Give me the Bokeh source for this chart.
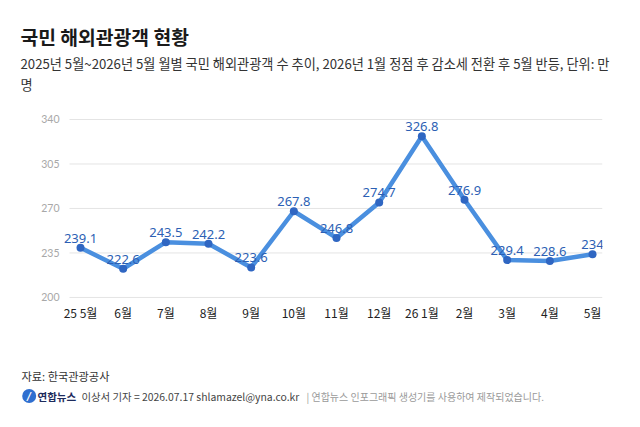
from bokeh.plotting import figure
from bokeh.layouts import column
from bokeh.models import ColumnDataSource, FixedTicker, Range1d
from bokeh.core.properties import value
from bokeh.embed import file_html
from bokeh.resources import INLINE

# Monthly outbound tourists (unit: 10,000 people)
months = ["25 5월", "6월", "7월", "8월", "9월", "10월", "11월", "12월",
          "26 1월", "2월", "3월", "4월", "5월"]
tourists = [239.1, 222.6, 243.5, 242.2, 223.6, 267.8, 246.8, 274.7,
            326.8, 276.9, 229.4, 228.6, 234]
y_ticks = [200, 235, 270, 305, 340]
value_labels = ["239.1", "222.6", "243.5", "242.2", "223.6", "267.8", "246.8",
                "274.7", "326.8", "276.9", "229.4", "228.6", "234"]

title = "국민 해외관광객 현황"
subtitle_1 = "2025년 5월~2026년 5월 월별 국민 해외관광객 수 추이, 2026년 1월 정점 후 감소세 전환 후 5월 반등, 단위: 만"
subtitle_2 = "명"
source_note = "자료: 한국관광공사"
credit_brand = "연합뉴스"
credit_byline = "이상서 기자 = 2026.07.17 shlamazel@yna.co.kr"
credit_tail = "| 연합뉴스 인포그래픽 생성기를 사용하여 제작되었습니다."

W = 640
KR = "Noto Sans CJK KR"
HEADER_H, MAIN_H, FOOTER_H = 100, 230, 97


def text_panel(height, y_top):
    # plain panel whose frame is the whole canvas, in page pixels (y grows downward)
    f = figure(width=W, height=height, output_backend="svg", toolbar_location=None,
               x_range=Range1d(0, W), y_range=Range1d(y_top + height, y_top),
               min_border=0)
    f.frame_align = False
    f.axis.visible = False
    f.grid.visible = False
    f.outline_line_color = None
    f.background_fill_color = "white"
    f.border_fill_color = "white"
    return f


def put(f, txt, x, y, size, color, style="normal", font=KR):
    f.text(x=[x], y=[y], text=[txt], text_font=value(font), text_font_size=size,
           text_color=color, text_font_style=style,
           text_baseline="middle", text_align="left")


# ---- header
header = text_panel(HEADER_H, 0)
put(header, title, 20, 36, "19.3px", "#1a1a1a", "bold")
put(header, subtitle_1, 20, 63, "13.2px", "#333333")
put(header, subtitle_2, 20, 84, "13.2px", "#333333")

# ---- main chart
src = ColumnDataSource(dict(x=list(range(len(months))), y=tourists, lab=value_labels))

p = figure(width=W, height=MAIN_H, output_backend="svg", toolbar_location=None,
           x_range=Range1d(-0.4453, 12.234), y_range=Range1d(197.6, 351.0),
           min_border_left=61, min_border_right=38,
           min_border_top=5, min_border_bottom=30)
p.frame_align = False
p.outline_line_color = None
p.background_fill_color = "white"
p.border_fill_color = "white"

p.xaxis.ticker = FixedTicker(ticks=list(range(len(months))))
p.xaxis.major_label_overrides = {i: m for i, m in enumerate(months)}
p.xaxis.axis_line_color = None
p.xaxis.major_tick_line_color = None
p.xaxis.minor_tick_line_color = None
p.xaxis.major_tick_out = 0
p.xaxis.major_tick_in = 0
p.xaxis.major_label_text_font = KR
p.xaxis.major_label_text_font_size = "12px"
p.xaxis.major_label_text_color = "#222222"
p.xaxis.major_label_standoff = 3

p.yaxis.ticker = FixedTicker(ticks=y_ticks)
p.yaxis.axis_line_color = None
p.yaxis.major_tick_line_color = None
p.yaxis.minor_tick_line_color = None
p.yaxis.major_tick_out = 0
p.yaxis.major_tick_in = 0
p.yaxis.major_label_text_font = "Lato"
p.yaxis.major_label_text_font_size = "10.5px"
p.yaxis.major_label_text_color = "#a8a8a8"
p.yaxis.major_label_standoff = 2

p.grid.grid_line_color = None

# horizontal guide lines at the y ticks, starting a little right of the frame edge
p.segment(x0=[-0.2578] * len(y_ticks), x1=[12.234] * len(y_ticks),
          y0=y_ticks, y1=y_ticks, line_color="#e4e4e4", line_width=1)

p.line("x", "y", source=src, line_color="#4a8fdf", line_width=4.5,
       line_join="round", line_cap="round")
p.scatter("x", "y", source=src, size=8, fill_color="#2f66c2", line_color=None)
p.text("x", "y", text="lab", source=src, y_offset=-5,
       text_align="center", text_baseline="bottom",
       text_font=value("Noto Sans"), text_font_size="13px",
       text_color="#2c5fb4")

# ---- footer
footer = text_panel(FOOTER_H, HEADER_H + MAIN_H)
put(footer, source_note, 21, 375, "11.2px", "#333333")
footer.scatter(x=[28.7], y=[395.5], size=14, fill_color="#2f6fd0", line_color=None)
footer.text(x=[28.7], y=[395.5], text=["/"], text_font=value("DejaVu Sans"),
            text_font_size="10px", text_font_style="bold italic", text_color="white",
            text_align="center", text_baseline="middle")
put(footer, credit_brand, 37, 395.5, "10.5px", "#1d2b5c", "bold")
put(footer, credit_byline, 81, 395.5, "10.4px", "#444444")
put(footer, credit_tail, 306, 395.5, "10px", "#9a9a9a")

page = column(header, p, footer, spacing=0)
open("out.html", "w").write(file_html(page, INLINE))
